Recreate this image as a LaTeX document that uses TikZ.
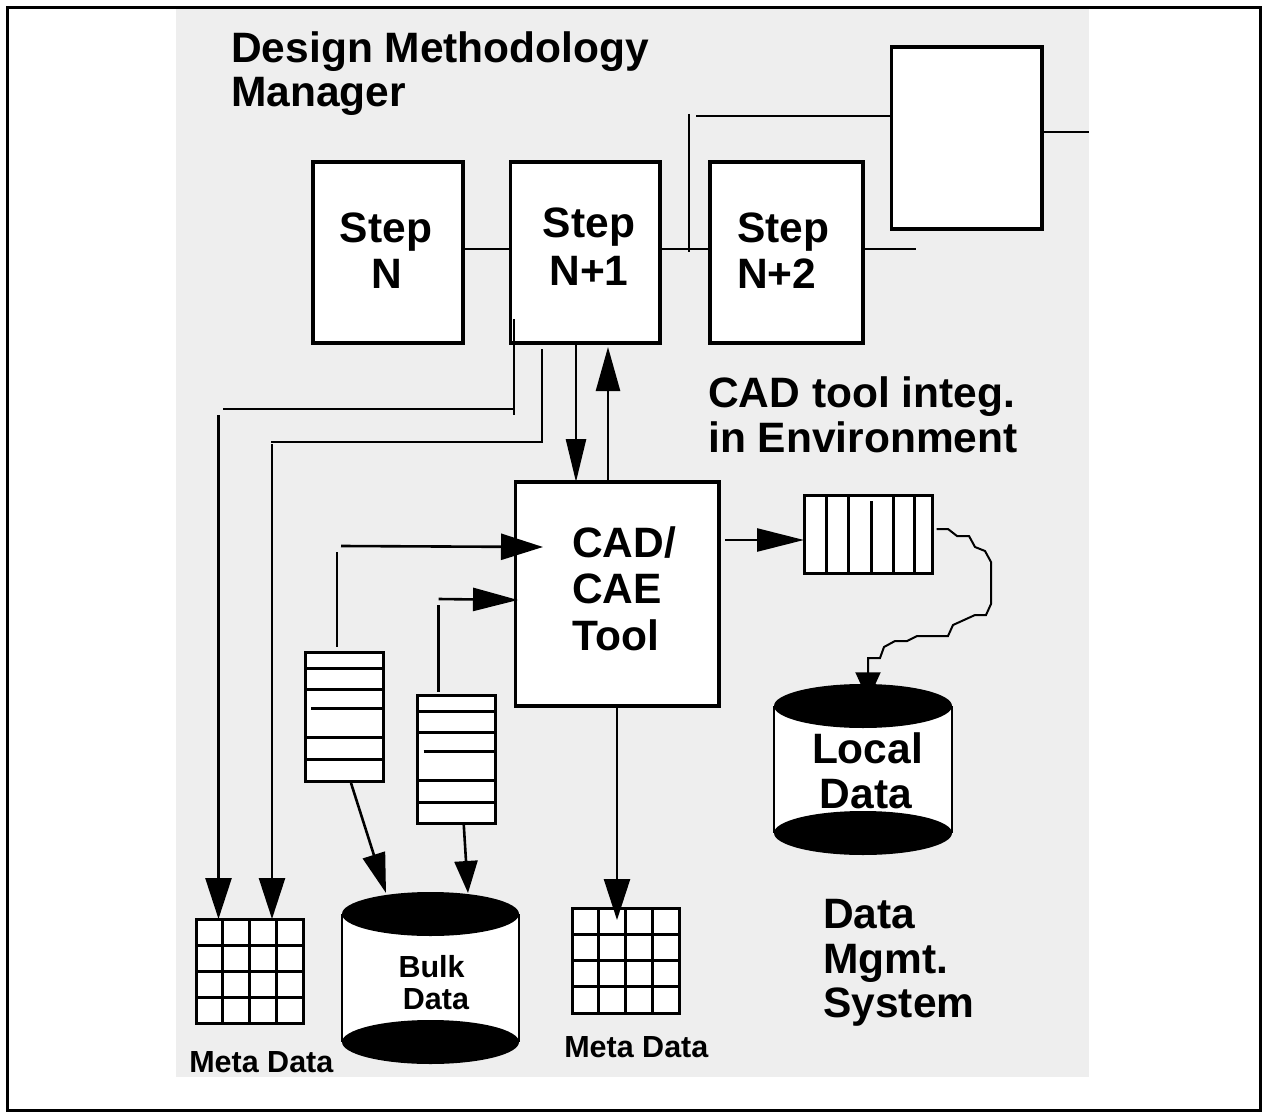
\documentclass[tikz,border=0pt]{standalone}
\usepackage{fontspec}
\setmainfont{Liberation Sans}
\usetikzlibrary{arrows.meta,calc}
\definecolor{panel}{RGB}{238,238,238}
\begin{document}
\begin{tikzpicture}[x=1pt,y=-1pt,line width=2.6pt,
  bigtxt/.style={font=\fontsize{42.5}{45}\selectfont\bfseries,inner sep=0pt},
  smalltxt/.style={font=\fontsize{30.5}{32}\selectfont\bfseries,inner sep=0pt},
  box/.style={draw,fill=white,line width=3.2pt,inner sep=0pt,outer sep=0pt},
  stack/.style={draw,fill=white,line width=3pt,inner sep=0pt,outer sep=0pt},
  drum/.style={fill=white,inner sep=0pt,outer sep=0pt},
]
\useasboundingbox (0,0) rectangle (1264,1113);
\draw[line width=3pt] (7.5,7.5) rectangle (1260.5,1110.5);
\fill[panel] (176,9) rectangle (1089,1077);

% ---- titles
\node[bigtxt,anchor=base west] (dmm1) at (230,63) {Design Methodology};
\node[bigtxt,anchor=base west] (dmm2) at (230,107) {Manager};
\node[bigtxt,anchor=base west] (cti1) at (707,407) {CAD tool integ.};
\node[bigtxt,anchor=base west] (cti2) at (707,452) {in Environment};
\node[bigtxt,anchor=base west] (dms1) at (822,928) {Data};
\node[bigtxt,anchor=base west] (dms2) at (822,973) {Mgmt.};
\node[bigtxt,anchor=base west] (dms3) at (822,1017) {System};

% ---- methodology steps
\node[box,minimum width=150pt,minimum height=181pt] (stepN) at (388,252.5) {};
\node[box,minimum width=149.4pt,minimum height=181pt] (stepN1) at (585.3,252.5) {};
\node[box,minimum width=153pt,minimum height=181pt] (stepN2) at (786.5,252.5) {};
\node[box,minimum width=150.4pt,minimum height=182pt] (stepX) at (966.8,138) {};
\node[bigtxt,anchor=base] (sNa) at (386,242) {Step};
\node[bigtxt,anchor=base] (sNb) at (387,288) {N};
\node[bigtxt,anchor=base] (sN1a) at (589,237) {Step};
\node[bigtxt,anchor=base] (sN1b) at (589,285) {N+1};
\node[bigtxt,anchor=base west] (sN2a) at (736,242) {Step};
\node[bigtxt,anchor=base west] (sN2b) at (736,288) {N+2};

% ---- tool
\node[box,minimum width=203.3pt,minimum height=224pt] (cad) at (617.4,594) {};
\node[bigtxt,anchor=base west] (cada) at (571,557) {CAD/};
\node[bigtxt,anchor=base west] (cadb) at (571,603) {CAE};
\node[bigtxt,anchor=base west] (cadc) at (571,650) {Tool};

% ---- buffers
\node[stack,minimum width=78pt,minimum height=129pt] (buf1) at (344,716.5) {};
\node[stack,minimum width=77.5pt,minimum height=128pt] (buf2) at (456.25,759) {};
\node[stack,minimum width=128.7pt,minimum height=78pt] (buf3) at (868.35,534) {};
\foreach \b in {buf1,buf2} {
  \foreach \d in {16pt,37pt,85pt,107pt}
    \draw[line width=3pt] ([yshift=-\d]\b.north west) -- ([yshift=-\d]\b.north east);
  \draw[line width=3pt] ([xshift=6pt,yshift=-56pt]\b.north west) -- ([yshift=-56pt]\b.north east);
}
\foreach \d in {22pt,44pt,89pt,110pt}
  \draw[line width=3pt] ([xshift=\d]buf3.north west) -- ([xshift=\d]buf3.south west);
\draw[line width=3pt] ([xshift=67pt,yshift=-6pt]buf3.north west) -- ([xshift=67pt]buf3.south west);

% ---- meta data tables
\node[stack,minimum width=107pt,minimum height=104pt] (meta1) at (249.5,971) {};
\node[stack,minimum width=107pt,minimum height=105pt] (meta2) at (625.5,960.5) {};
\foreach \m in {meta1,meta2}
  \foreach \f in {0.25,0.5,0.75} {
    \draw[line width=3pt] ($(\m.north west)!\f!(\m.north east)$) -- ($(\m.south west)!\f!(\m.south east)$);
    \draw[line width=3pt] ($(\m.north west)!\f!(\m.south west)$) -- ($(\m.north east)!\f!(\m.south east)$);
  }
\node[smalltxt,anchor=base west] (md1) at (188,1072) {Meta Data};
\node[smalltxt,anchor=base west] (md2) at (563,1057) {Meta Data};

% ---- data stores
\node[drum,minimum width=177pt,minimum height=128pt] (bulk) at (430.5,978) {};
\node[drum,minimum width=178pt,minimum height=127pt] (local) at (863,769.5) {};
\foreach \d/\rx in {bulk/88.5pt,local/89pt} {
  \draw[line width=2pt] (\d.north west) -- (\d.south west) (\d.north east) -- (\d.south east);
  \fill (\d.north) ellipse [x radius=\rx, y radius=22pt];
  \fill (\d.south) ellipse [x radius=\rx, y radius=22pt];
}
\node[bigtxt,anchor=base] (loca) at (867.5,763) {Local};
\node[bigtxt,anchor=base] (locb) at (866,808) {Data};
\node[smalltxt,anchor=base] (bulka) at (431.6,977) {Bulk};
\node[smalltxt,anchor=base] (bulkb) at (436,1009) {Data};

% ---- step chain
\coordinate (row) at (0,249);
\coordinate (tapT) at (689,114);
\coordinate (tapB) at (689,252);
\coordinate (tapH) at (696,116);
\coordinate (n2out) at (916,249);
\coordinate (xout) at (1089,132);
\draw (stepN.east |- row) -- (stepN1.west |- row);
\draw (stepN1.east |- row) -- (stepN2.west |- row);
\draw (stepN2.east |- row) -- (n2out);
\draw (tapT) -- (tapB);
\draw (tapH) -- (stepX.west |- tapH);
\draw (stepX.east |- xout) -- (xout);

% ---- step N+1 to meta data
\coordinate (fa1) at (514,319); \coordinate (fa2) at (514,415);
\coordinate (fa3) at (514,409); \coordinate (fa4) at (223,409);
\coordinate (fa5) at (218.5,415);
\draw (fa1) -- (fa2);
\draw (fa3) -- (fa4);
\draw[-{Triangle[length=41pt,width=26pt]}] (fa5) -- (meta1.north -| fa5);
\coordinate (fb1) at (542,349); \coordinate (fb2) at (542,443);
\coordinate (fb3) at (542,442); \coordinate (fb4) at (271,442);
\coordinate (fb5) at (272,444);
\draw (fb1) -- (fb2);
\draw (fb3) -- (fb4);
\draw[-{Triangle[length=41pt,width=26pt]}] (fb5) -- (meta1.north -| fb5);

% ---- step N+1 <-> tool
\coordinate (dn) at (576,0);
\coordinate (up) at (608,0);
\draw[-{Triangle[length=43pt,width=20pt]}] (stepN1.south -| dn) -- (cad.north -| dn);
\draw[-{Triangle[length=44pt,width=24pt]}] (cad.north -| up) -- ([yshift=-4pt]stepN1.south -| up);

% ---- buffers into tool
\coordinate (ga1) at (337,552); \coordinate (ga2) at (337,647);
\coordinate (ga3) at (341,546); \coordinate (ga4) at (543,547);
\draw (ga1) -- (ga2);
\draw[-{Triangle[length=42pt,width=26pt]}] (ga3) -- (ga4);
\coordinate (gb1) at (438.6,605); \coordinate (gb2) at (438.6,692);
\coordinate (gb3) at (438.6,599); \coordinate (gb4) at (518,600);
\draw (gb1) -- (gb2);
\draw[-{Triangle[length=45pt,width=23pt]}] (gb3) -- (gb4);

% ---- tool outputs
\coordinate (r0) at (725,540);
\draw[-{Triangle[length=47pt,width=23pt]}] (r0) -- (buf3.west |- r0);
\coordinate (c0) at (617,0); \coordinate (c1) at (617,920);
\draw[-{Triangle[length=41pt,width=26pt]}] (cad.south -| c0) -- (c1);

% ---- buffers into bulk data
\coordinate (bk1) at (386,893);
\coordinate (bk2) at (468,893);
\draw[-{Triangle[length=40pt,width=23pt]}] ([xshift=7pt,yshift=-2pt]buf1.south) -- (bk1);
\draw[-{Triangle[length=32pt,width=23pt]}] ([xshift=7.4pt]buf2.south) -- (bk2);

% ---- buffer to local data (meandering link)
\draw[line width=2pt,-{Triangle[length=28pt,width=25pt]}]
  ([xshift=4pt,yshift=5pt]buf3.east) -- (948,529) -- (957,536) -- (969,536)
  -- (975,547) -- (985,551) -- (991,562) -- (991,604) -- (986,615) -- (975,615)
  -- (953,625) -- (948,636) -- (917,636) -- (907,641) -- (895,641) -- (884,647)
  -- (880,658) -- (868,658) -- (868,672) -- ([xshift=5pt,yshift=5.75pt]local.north);
\end{tikzpicture}
\end{document}
